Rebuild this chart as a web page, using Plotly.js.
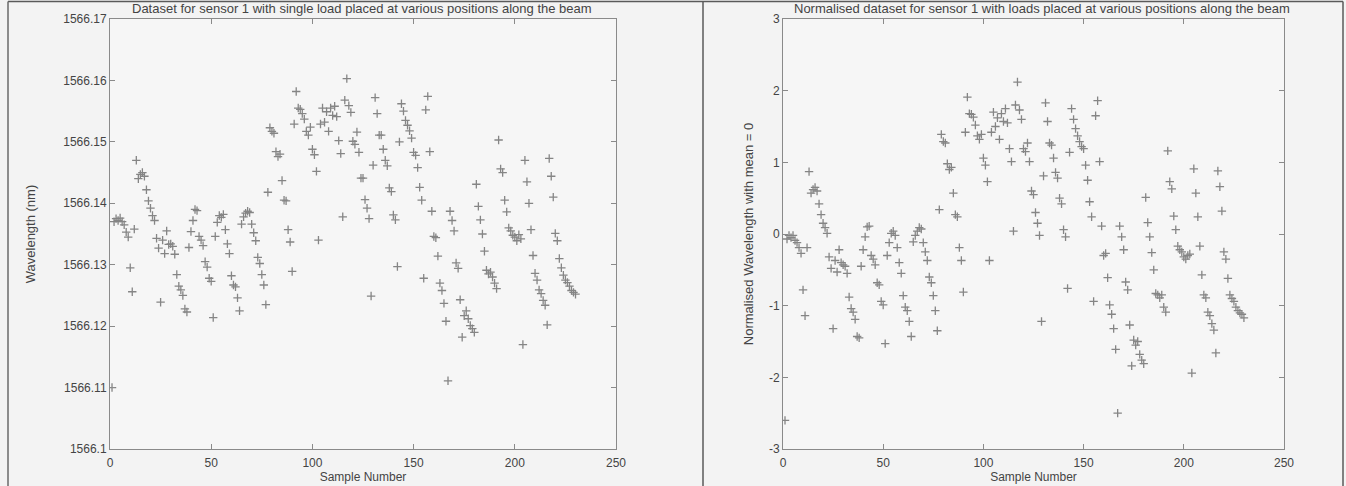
<!DOCTYPE html>
<html>
<head>
<meta charset="utf-8">
<script src="https://cdn.plot.ly/plotly-3.0.1.min.js"></script>
<style>
  html, body { margin: 0; padding: 0; background: #f3f3f3; }
  #chart { width: 1346px; height: 486px; }
</style>
</head>
<body>
<div id="chart"></div>
<script>
// Raw wavelength readings (nm), sensor 1
const wavelength = [
1566.1100, 1566.1370, 1566.1375, 1566.1372, 1566.1376, 1566.1370, 1566.1365, 1566.1353, 1566.1345, 1566.1295,
1566.1256, 1566.1358, 1566.1470, 1566.1440, 1566.1447, 1566.1450, 1566.1444, 1566.1422, 1566.1404, 1566.1392,
1566.1380, 1566.1372, 1566.1343, 1566.1327, 1566.1239, 1566.1340, 1566.1318, 1566.1355, 1566.1333, 1566.1334,
1566.1330, 1566.1317, 1566.1284, 1566.1265, 1566.1259, 1566.1250, 1566.1228, 1566.1223, 1566.1328, 1566.1354,
1566.1372, 1566.1390, 1566.1388, 1566.1346, 1566.1340, 1566.1331, 1566.1305, 1566.1296, 1566.1278, 1566.1273,
1566.1214, 1566.1346, 1566.1369, 1566.1380, 1566.1377, 1566.1382, 1566.1357, 1566.1334, 1566.1318, 1566.1282,
1566.1267, 1566.1264, 1566.1246, 1566.1225, 1566.1366, 1566.1378, 1566.1384, 1566.1387, 1566.1385, 1566.1366,
1566.1352, 1566.1339, 1566.1312, 1566.1302, 1566.1284, 1566.1267, 1566.1235, 1566.1418, 1566.1523, 1566.1517,
1566.1514, 1566.1484, 1566.1476, 1566.1480, 1566.1437, 1566.1405, 1566.1404, 1566.1357, 1566.1337, 1566.1289,
1566.1529, 1566.1582, 1566.1555, 1566.1553, 1566.1546, 1566.1537, 1566.1517, 1566.1511, 1566.1524, 1566.1488,
1566.1479, 1566.1452, 1566.1340, 1566.1529, 1566.1555, 1566.1532, 1566.1549, 1566.1517, 1566.1555, 1566.1543,
1566.1558, 1566.1541, 1566.1502, 1566.1481, 1566.1378, 1566.1568, 1566.1603, 1566.1559, 1566.1548, 1566.1501,
1566.1496, 1566.1516, 1566.1483, 1566.1441, 1566.1441, 1566.1406, 1566.1392, 1566.1375, 1566.1249, 1566.1462,
1566.1572, 1566.1546, 1566.1511, 1566.1511, 1566.1488, 1566.1470, 1566.1461, 1566.1425, 1566.1419, 1566.1381,
1566.1373, 1566.1297, 1566.1500, 1566.1562, 1566.1550, 1566.1535, 1566.1527, 1566.1518, 1566.1506, 1566.1483,
1566.1478, 1566.1458, 1566.1426, 1566.1405, 1566.1278, 1566.1552, 1566.1574, 1566.1484, 1566.1387, 1566.1346,
1566.1344, 1566.1314, 1566.1270, 1566.1258, 1566.1237, 1566.1208, 1566.1111, 1566.1387, 1566.1372, 1566.1355,
1566.1303, 1566.1294, 1566.1243, 1566.1182, 1566.1217, 1566.1225, 1566.1212, 1566.1201, 1566.1196, 1566.1190,
1566.1431, 1566.1395, 1566.1373, 1566.1350, 1566.1322, 1566.1291, 1566.1285, 1566.1288, 1566.1280, 1566.1270,
1566.1261, 1566.1503, 1566.1456, 1566.1450, 1566.1405, 1566.1386, 1566.1360, 1566.1355, 1566.1348, 1566.1345,
1566.1339, 1566.1349, 1566.1342, 1566.1170, 1566.1470, 1566.1435, 1566.1400, 1566.1357, 1566.1315, 1566.1286,
1566.1275, 1566.1259, 1566.1253, 1566.1242, 1566.1234, 1566.1202, 1566.1473, 1566.1444, 1566.1410, 1566.1351,
1566.1339, 1566.1310, 1566.1295, 1566.1283, 1566.1275, 1566.1271, 1566.1265, 1566.1258, 1566.1255, 1566.1252
];

// Normalised readings (mean = 0)
const normalised = [
-2.60, -0.07, -0.02, -0.05, -0.02, -0.09, -0.12, -0.19, -0.27, -0.78,
-1.14, -0.19, 0.87, 0.57, 0.62, 0.65, 0.60, 0.42, 0.27, 0.15,
0.09, 0.01, -0.32, -0.48, -1.32, -0.37, -0.53, -0.22, -0.40, -0.43,
-0.45, -0.55, -0.88, -1.04, -1.09, -1.19, -1.43, -1.45, -0.45, -0.22,
-0.04, 0.10, 0.11, -0.30, -0.35, -0.43, -0.68, -0.71, -0.94, -0.99,
-1.53, -0.30, -0.12, 0.01, 0.04, -0.02, -0.19, -0.40, -0.55, -0.86,
-1.02, -1.07, -1.22, -1.43, -0.11, -0.02, 0.04, 0.09, 0.07, -0.12,
-0.25, -0.37, -0.60, -0.68, -0.86, -1.07, -1.35, 0.34, 1.39, 1.29,
1.27, 0.98, 0.90, 0.93, 0.57, 0.27, 0.24, -0.19, -0.37, -0.81,
1.42, 1.91, 1.68, 1.67, 1.63, 1.52, 1.37, 1.32, 1.39, 1.06,
0.96, 0.73, -0.37, 1.42, 1.70, 1.50, 1.62, 1.32, 1.68, 1.57,
1.75, 1.55, 1.19, 1.01, 0.04, 1.80, 2.12, 1.73, 1.60, 1.19,
1.15, 1.27, 1.01, 0.60, 0.55, 0.30, 0.15, -0.02, -1.22, 0.81,
1.83, 1.57, 1.27, 1.24, 1.06, 0.86, 0.78, 0.50, 0.42, 0.06,
-0.04, -0.76, 1.14, 1.75, 1.60, 1.47, 1.37, 1.29, 1.22, 1.19,
0.96, 0.75, 0.45, 0.24, -0.94, 1.65, 1.86, 1.01, 0.11, -0.30,
-0.27, -0.61, -0.99, -1.12, -1.32, -1.61, -2.50, 0.11, -0.04, -0.22,
-0.67, -0.78, -1.27, -1.84, -1.48, -1.55, -1.50, -1.68, -1.76, -1.81,
0.51, 0.16, -0.04, -0.26, -0.50, -0.83, -0.85, -0.89, -0.85, -1.02,
-1.09, 1.16, 0.73, 0.63, 0.25, 0.06, -0.17, -0.22, -0.25, -0.32,
-0.35, -0.30, -0.28, -1.94, 0.91, 0.57, 0.24, -0.17, -0.57, -0.85,
-0.89, -1.09, -1.14, -1.25, -1.34, -1.66, 0.88, 0.66, 0.32, -0.25,
-0.35, -0.62, -0.85, -0.90, -0.94, -1.02, -1.07, -1.10, -1.12, -1.17
];

const xTickVals = [0, 50, 100, 150, 200, 250];
const leftTickVals = [1566.10, 1566.11, 1566.12, 1566.13, 1566.14, 1566.15, 1566.16, 1566.17];
const leftTickText = ['1566.1', '1566.11', '1566.12', '1566.13', '1566.14', '1566.15', '1566.16', '1566.17'];
const rightTickVals = [-3, -2, -1, 0, 1, 2, 3];
const rightTickText = ['-3', '-2', '-1', '0', '1', '2', '3'];

const leftTitle = 'Dataset for sensor 1 with single load placed at various positions along the beam';
const rightTitle = 'Normalised dataset for sensor 1 with loads placed at various positions along the beam';

const sampleLeft = wavelength.map((_, i) => i + 1);
const sampleRight = normalised.map((_, i) => i + 1);

const W = 1346, H = 486;
const px = v => v / W;
const py = v => 1 - v / H;

const FONT = 'Liberation Sans, Arial, Helvetica, sans-serif';
const TXT = '#444444';
const LINE = '#8a8a8a';

const marker = { symbol: 'cross-thin', size: 6, color: '#858585', line: { color: '#858585', width: 1.3 } };

const traces = [
  { x: sampleLeft, y: wavelength, mode: 'markers', type: 'scatter', marker: marker, xaxis: 'x', yaxis: 'y', hoverinfo: 'x+y' },
  { x: sampleRight, y: normalised, mode: 'markers', type: 'scatter', marker: marker, xaxis: 'x2', yaxis: 'y2', hoverinfo: 'x+y' }
];

const axisCommon = {
  showgrid: false, zeroline: false, showline: true, linecolor: LINE, linewidth: 1,
  ticks: 'inside', ticklen: 5, tickcolor: LINE, mirror: 'ticks',
  tickfont: { family: FONT, size: 12, color: TXT }
};

const topPx = 19, botPx = 449;

const layout = {
  width: W, height: H,
  margin: { l: 0, r: 0, t: 0, b: 0 },
  paper_bgcolor: '#f3f3f3',
  plot_bgcolor: '#f6f6f6',
  showlegend: false,
  font: { family: FONT, size: 12, color: TXT },
  xaxis: Object.assign({}, axisCommon, {
    domain: [px(110), px(616)], range: [0, 250], tickvals: xTickVals,
    anchor: 'y', ticklabelstandoff: 3,
    title: { text: 'Sample Number', font: { family: FONT, size: 12, color: TXT }, standoff: 2 }
  }),
  yaxis: Object.assign({}, axisCommon, {
    domain: [py(botPx), py(topPx)], range: [1566.10, 1566.17],
    tickvals: leftTickVals, ticktext: leftTickText, anchor: 'x',
    title: { text: 'Wavelength (nm)', font: { family: FONT, size: 13, color: TXT }, standoff: 24 }
  }),
  xaxis2: Object.assign({}, axisCommon, {
    domain: [px(783), px(1284)], range: [0, 250], tickvals: xTickVals,
    anchor: 'y2', ticklabelstandoff: 3,
    title: { text: 'Sample Number', font: { family: FONT, size: 12, color: TXT }, standoff: 2 }
  }),
  yaxis2: Object.assign({}, axisCommon, {
    domain: [py(botPx), py(topPx)], range: [-3, 3],
    tickvals: rightTickVals, ticktext: rightTickText, anchor: 'x2',
    title: { text: 'Normalised Wavelength with mean = 0', font: { family: FONT, size: 13, color: TXT }, standoff: 12 }
  }),
  annotations: [
    { text: leftTitle, xref: 'paper', yref: 'paper', x: px(362), y: py(8), xanchor: 'center', yanchor: 'middle',
      showarrow: false, font: { family: FONT, size: 13, color: TXT } },
    { text: rightTitle, xref: 'paper', yref: 'paper', x: px(1042), y: py(8), xanchor: 'center', yanchor: 'middle',
      showarrow: false, font: { family: FONT, size: 13, color: TXT } }
  ],
  shapes: [
    { type: 'line', xref: 'paper', yref: 'paper', x0: px(8), x1: px(1343), y0: py(1.5), y1: py(1.5), line: { color: '#5a5a5a', width: 1.5 } },
    { type: 'line', xref: 'paper', yref: 'paper', x0: px(8), x1: px(8), y0: py(1.5), y1: 0, line: { color: '#6a6a6a', width: 1.5 } },
    { type: 'line', xref: 'paper', yref: 'paper', x0: px(703), x1: px(703), y0: py(1.5), y1: 0, line: { color: '#5a5a5a', width: 1.5 } },
    { type: 'line', xref: 'paper', yref: 'paper', x0: px(1343), x1: px(1343), y0: py(1.5), y1: 0, line: { color: '#5a5a5a', width: 1.5 } }
  ]
};

Plotly.newPlot('chart', traces, layout, { displayModeBar: false, staticPlot: true });
</script>
</body>
</html>
